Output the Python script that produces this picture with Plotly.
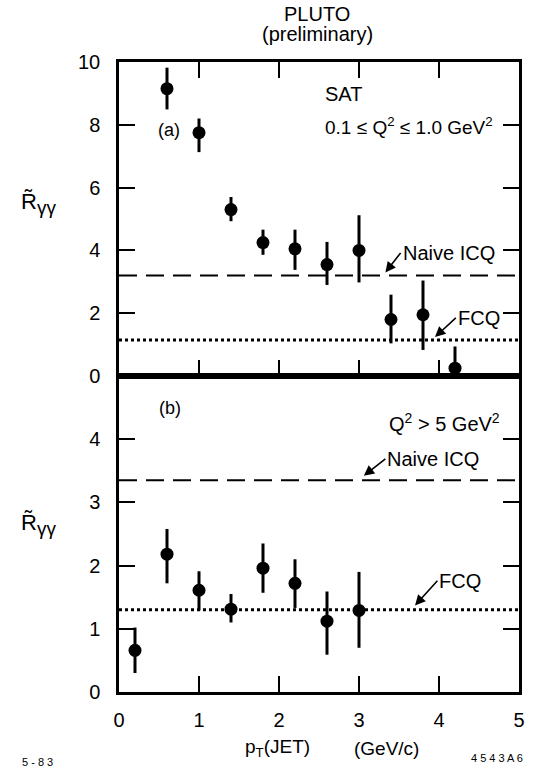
import plotly.graph_objects as go

# ---- data -------------------------------------------------------------
# (a) SAT, 0.1 <= Q^2 <= 1.0 GeV^2
pt_a = [0.6, 1.0, 1.4, 1.8, 2.2, 2.6, 3.0, 3.4, 3.8, 4.2]
r_a = [9.15, 7.75, 5.3, 4.25, 4.05, 3.55, 4.0, 1.8, 1.95, 0.25]
r_a_up = [0.67, 0.45, 0.40, 0.41, 0.61, 0.72, 1.12, 0.79, 1.09, 0.69]
r_a_dn = [0.66, 0.62, 0.37, 0.39, 0.67, 0.65, 1.02, 0.76, 1.12, 0.65]

# (b) Q^2 > 5 GeV^2
pt_b = [0.2, 0.6, 1.0, 1.4, 1.8, 2.2, 2.6, 3.0]
r_b = [0.66, 2.18, 1.61, 1.31, 1.96, 1.72, 1.12, 1.29]
r_b_up = [0.36, 0.40, 0.30, 0.24, 0.39, 0.38, 0.47, 0.61]
r_b_dn = [0.36, 0.46, 0.32, 0.21, 0.39, 0.39, 0.53, 0.59]

# model predictions (horizontal levels)
naive_icq_a = 3.2
fcq_a = 1.15
naive_icq_b = 3.35
fcq_b = 1.3

x_ticks = [0, 1, 2, 3, 4, 5]
y_ticks_a = [0, 2, 4, 6, 8, 10]
y_ticks_b = [0, 1, 2, 3, 4]

# ---- figure -----------------------------------------------------------
W, H = 542, 770
FONT = "Liberation Sans"
BLACK = "black"

fig = go.Figure()


def points(x, y, up, dn, xa, ya):
    return go.Scatter(
        x=x, y=y, mode="markers", xaxis=xa, yaxis=ya,
        marker=dict(size=13, color=BLACK),
        error_y=dict(type="data", array=up, arrayminus=dn,
                     thickness=3, width=0, color=BLACK),
        showlegend=False, hoverinfo="skip",
    )


fig.add_trace(points(pt_a, r_a, r_a_up, r_a_dn, "x", "y"))
fig.add_trace(points(pt_b, r_b, r_b_up, r_b_dn, "x2", "y2"))

xdom = [119 / W, 519 / W]
ydom_a = [1 - 376 / H, 1 - 62 / H]
ydom_b = [1 - 692 / H, 1 - 376 / H]

common = dict(showgrid=False, zeroline=False, showline=True, linecolor=BLACK,
              linewidth=2.5, ticks="inside", ticklen=16, tickwidth=2,
              tickcolor=BLACK, automargin=False,
              tickfont=dict(family=FONT, size=20, color=BLACK))

fig.update_layout(
    width=W, height=H,
    margin=dict(l=0, r=0, t=0, b=0),
    paper_bgcolor="white", plot_bgcolor="white",
    xaxis=dict(domain=xdom, range=[0, 5], anchor="y", mirror="ticks",
               tickvals=x_ticks[1:-1], showticklabels=False, **common),
    yaxis=dict(domain=ydom_a, range=[0, 10], anchor="x", mirror="ticks",
               tickvals=y_ticks_a, ticklabelstandoff=12, **common),
    xaxis2=dict(domain=xdom, range=[0, 5], anchor="y2", mirror=True,
                tickvals=x_ticks, ticktext=[str(v) for v in x_ticks],
                ticklabelstandoff=8, **common),
    yaxis2=dict(domain=ydom_b, range=[0, 5], anchor="x2", mirror="ticks",
                tickvals=y_ticks_b, ticklabelstandoff=12, **common),
)

# horizontal model lines
for level, yref, dash, width in [
    (naive_icq_a, "y", "18px,9px", 2),
    (fcq_a, "y", "3px,3px", 3),
    (naive_icq_b, "y2", "18px,9px", 2),
    (fcq_b, "y2", "3px,3px", 3),
]:
    xr = "x domain" if yref == "y" else "x2 domain"
    fig.add_shape(type="line", xref=xr, yref=yref, x0=0, x1=1,
                  y0=level, y1=level,
                  line=dict(color=BLACK, width=width, dash=dash))


def label(text, x, y, xref, yref, size=20, xanchor="left", yanchor="middle"):
    fig.add_annotation(text=text, x=x, y=y, xref=xref, yref=yref,
                       showarrow=False, xanchor=xanchor, yanchor=yanchor,
                       font=dict(family=FONT, size=size, color=BLACK))


def pointer(text, x_tip, y_tip, x_text, y_text, xref, yref):
    # label whose left edge sits at the arrow tail, arrow points at the line
    fig.add_annotation(text=text, x=x_tip, y=y_tip, ax=x_text, ay=y_text,
                       xref=xref, yref=yref, axref=xref, ayref=yref,
                       xanchor="left", yanchor="middle",
                       showarrow=True, arrowhead=2, arrowsize=1.3,
                       arrowwidth=1.6, arrowcolor=BLACK,
                       font=dict(family=FONT, size=20, color=BLACK))


# panel (a) labels
label("SAT", 2.55, 8.97, "x", "y")
label("0.1 ≤ Q<sup>2</sup> ≤ 1.0 GeV<sup>2</sup>", 2.55, 7.95, "x", "y",
      size=19)
label("(a)", 0.62, 7.85, "x", "y", size=18, xanchor="center")
pointer("Naive ICQ", 3.33, 3.3, 3.52, 3.92, "x", "y")
pointer("FCQ", 3.95, 1.24, 4.21, 1.85, "x", "y")

# panel (b) labels
label("(b)", 0.64, 4.49, "x2", "y2", size=18, xanchor="center")
label("Q<sup>2</sup> > 5 GeV<sup>2</sup>", 3.35, 4.26, "x2", "y2")
pointer("Naive ICQ", 3.06, 3.42, 3.33, 3.69, "x2", "y2")
pointer("FCQ", 3.7, 1.37, 3.98, 1.76, "x2", "y2")

# header, axis titles and footer
label("PLUTO", 317 / W, 1 - 14 / H, "paper", "paper", size=20, xanchor="center")
label("(preliminary)", 317 / W, 1 - 34 / H, "paper", "paper", size=20,
      xanchor="center")
r_title = "R̃<sub><span style='font-size:19px'>γγ</span></sub>"
label(r_title, 38 / W, 1 - 203 / H, "paper", "paper", size=22,
      xanchor="center")
label(r_title, 38 / W, 1 - 524 / H, "paper", "paper", size=22,
      xanchor="center")
label("p<sub>T</sub>(JET)", 243 / W, 1 - 748 / H, "paper", "paper", size=19)
label("(GeV/c)", 352 / W, 1 - 748 / H, "paper", "paper", size=19)
label("5 - 8 3", 20 / W, 1 - 762 / H, "paper", "paper", size=11)
label("4 5 4 3 A 6", 525 / W, 1 - 758 / H, "paper", "paper", size=11,
      xanchor="right")

fig.write_html("out.html")
